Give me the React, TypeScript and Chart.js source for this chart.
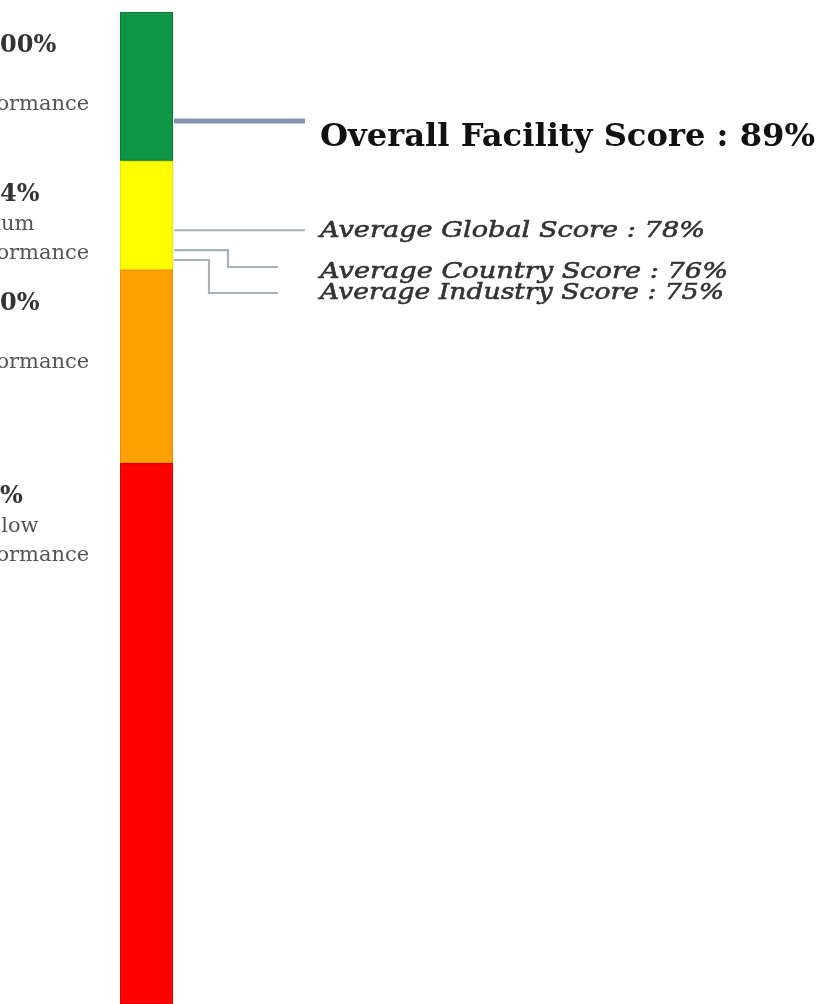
import React, { useEffect, useRef } from "react";
import { Chart, registerables } from "chart.js";

Chart.register(...registerables);

// ---- data ----
const bandNames = ["Red", "Orange", "Yellow", "Green"];
const bandValues = [54.5, 19.5, 11, 15]; // stacked from the bottom (0..100)
const bandColors = ["#ff0000", "#ffa200", "#ffff00", "#0f9644"];
const bandBorders = ["#dc0000", "#f08a00", "#efe800", "#0a7a33"];
const bandRangeLabels = ["0-50%", "51-70%", "71-84%", "85-100%"];
const bandLevelLabels = ["Very low", "Low", "Medium", "High"];
const bandSuffixLabels = ["Performance", "Performance", "Performance", "Performance"];

const scoreNames = [
  "Overall Facility Score",
  "Average Global Score",
  "Average Country Score",
  "Average Industry Score",
];
const scoreValues = [89, 78, 76, 75];

// ---- layout (not data) ----
const W = 820;
const H = 1004;
const BAR_LEFT = 120;
const BAR_RIGHT = 173;
const TOP = 12;

const annotationPlugin = {
  id: "scoreAnnotations",
  afterDatasetsDraw(chart: any) {
    const ctx: CanvasRenderingContext2D = chart.ctx;
    const y = chart.scales.y;
    const bar: any = chart.getDatasetMeta(0).data[0];
    const barRight = bar.x + bar.width / 2;

    ctx.save();
    // left band labels (cropped by the canvas edge)
    let cum = 0;
    for (let i = 0; i < bandValues.length; i++) {
      cum += bandValues[i];
      const yTop = y.getPixelForValue(cum);
      const b0 = yTop + 40;
      ctx.textAlign = "left";
      ctx.textBaseline = "alphabetic";
      ctx.fillStyle = "#333333";
      ctx.font = "bold 24px 'DejaVu Serif'";
      ctx.fillText(bandRangeLabels[i], -60, b0);
      ctx.fillStyle = "#555555";
      ctx.font = "21px 'DejaVu Serif'";
      ctx.fillText(bandLevelLabels[i], -53, b0 + 29);
      ctx.fillText(bandSuffixLabels[i], -47, b0 + 58);
    }

    // leader lines
    const rows = [
      { elbowX: null, rowY: null, endX: 305, lw: 5, color: "#7f95b0" },
      { elbowX: null, rowY: null, endX: 305, lw: 2.2, color: "#a9b1bb" },
      { elbowX: 228, rowY: 267, endX: 278, lw: 2.2, color: "#a9b1bb" },
      { elbowX: 209, rowY: 293, endX: 278, lw: 2.2, color: "#a9b1bb" },
    ];
    for (let i = 0; i < scoreValues.length; i++) {
      const r = rows[i];
      const sy = y.getPixelForValue(scoreValues[i]);
      ctx.beginPath();
      ctx.strokeStyle = r.color;
      ctx.lineWidth = r.lw;
      ctx.lineJoin = "miter";
      ctx.moveTo(barRight + 1, sy);
      if (r.elbowX !== null && r.rowY !== null) {
        ctx.lineTo(r.elbowX, sy);
        ctx.lineTo(r.elbowX, r.rowY);
        ctx.lineTo(r.endX, r.rowY);
      } else {
        ctx.lineTo(r.endX, sy);
      }
      ctx.stroke();
    }

    // score texts, fitted horizontally to the reference widths
    const texts = [
      { font: "bold 31px 'DejaVu Serif'", color: "#111111", base: 146, width: 495, stroke: 0 },
      { font: "italic 23px 'DejaVu Serif'", color: "#333333", base: 237, width: 385, stroke: 0.6 },
      { font: "italic 23px 'DejaVu Serif'", color: "#333333", base: 278, width: 408, stroke: 0.6 },
      { font: "italic 23px 'DejaVu Serif'", color: "#333333", base: 299, width: 404, stroke: 0.6 },
    ];
    for (let i = 0; i < scoreValues.length; i++) {
      const t = texts[i];
      const label = `${scoreNames[i]} : ${scoreValues[i]}%`;
      ctx.font = t.font;
      ctx.fillStyle = t.color;
      ctx.strokeStyle = t.color;
      ctx.textAlign = "left";
      const m = ctx.measureText(label).width;
      const sx = t.width / m;
      ctx.save();
      ctx.translate(320, t.base);
      ctx.scale(sx, 1);
      ctx.fillText(label, 0, 0);
      if (t.stroke > 0) {
        ctx.lineWidth = t.stroke;
        ctx.strokeText(label, 0, 0);
      }
      ctx.restore();
    }
    ctx.restore();
  },
};

export default function App() {
  const ref = useRef<HTMLCanvasElement | null>(null);

  useEffect(() => {
    if (!ref.current) return;
    const chart = new Chart(ref.current, {
      type: "bar",
      data: {
        labels: ["Score"],
        datasets: bandValues.map((v, i) => ({
          label: bandNames[i],
          data: [v],
          backgroundColor: bandColors[i],
          borderColor: bandBorders[i],
          borderWidth: 1.5,
          borderSkipped: false,
          barPercentage: 1,
          categoryPercentage: 1,
        })),
      },
      options: {
        animation: false,
        responsive: false,
        maintainAspectRatio: false,
        layout: { padding: { left: BAR_LEFT, right: W - BAR_RIGHT, top: TOP, bottom: 0 } },
        scales: {
          x: { display: false, stacked: true },
          y: { display: false, stacked: true, min: 0, max: 100 },
        },
        plugins: { legend: { display: false }, tooltip: { enabled: false } },
      },
      plugins: [annotationPlugin],
    });
    return () => chart.destroy();
  }, []);

  return (
    <div style={{ position: "absolute", left: 0, top: 0, width: W, height: H, background: "#fff" }}>
      <canvas ref={ref} width={W} height={H} />
    </div>
  );
}
